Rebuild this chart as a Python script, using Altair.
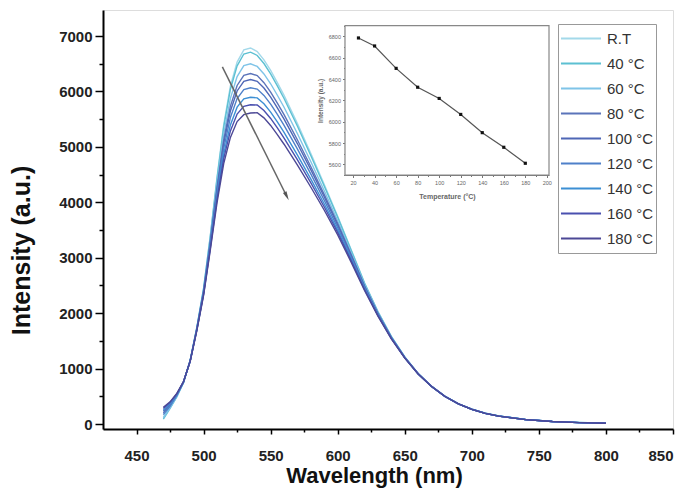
import altair as alt
import pandas as pd

FONT = "Liberation Sans"

# ---------------- data ----------------
wavelength = [470, 475, 480, 485, 490, 495, 500, 505, 510, 515, 520, 525, 530, 535, 540,
              545, 550, 555, 560, 570, 580, 590, 600, 610, 620, 630, 640, 650, 660, 670,
              680, 690, 700, 710, 720, 740, 760, 780, 800]

series_labels = ["R.T", "40 °C", "60 °C", "80 °C", "100 °C", "120 °C", "140 °C", "160 °C", "180 °C"]
series_colors = ["#a3d9ea", "#5cc0d2", "#7fc4e8", "#5b74ba", "#4f67b6", "#4f80c9", "#3c8fd4", "#4a50af", "#4c4896"]

int_rt = [130, 300, 500, 750, 1150, 1750, 2450, 3400, 4450, 5400, 6100, 6530, 6750, 6785, 6720,
          6570, 6380, 6160, 5930, 5420, 4880, 4320, 3750, 3150, 2550, 2030, 1580, 1210, 910, 680,
          500, 365, 268, 195, 145, 82, 46, 26, 14]
int_40 = [90, 280, 490, 745, 1149, 1746, 2442, 3383, 4421, 5355, 6041, 6462, 6676, 6710, 6650,
          6504, 6317, 6100, 5874, 5372, 4841, 4291, 3729, 3135, 2541, 2025, 1577, 1209, 910, 679,
          499, 365, 267, 195, 144, 82, 46, 26, 14]
int_60 = [110, 290, 495, 748, 1145, 1735, 2419, 3336, 4338, 5230, 5875, 6269, 6466, 6500, 6452,
          6316, 6139, 5932, 5716, 5238, 4732, 4208, 3668, 3094, 2516, 2010, 1569, 1205, 908, 679,
          499, 364, 267, 194, 144, 81, 46, 25, 14]
int_80 = [200, 340, 520, 755, 1142, 1726, 2400, 3296, 4268, 5125, 5735, 6108, 6291, 6324, 6286,
          6159, 5990, 5791, 5583, 5125, 4641, 4138, 3617, 3060, 2494, 1997, 1563, 1202, 907, 678,
          498, 364, 266, 194, 144, 81, 45, 25, 13]
int_100 = [230, 360, 530, 758, 1140, 1721, 2388, 3272, 4226, 5060, 5649, 6009, 6183, 6215, 6184,
           6062, 5898, 5705, 5502, 5056, 4585, 4095, 3586, 3039, 2482, 1989, 1559, 1200, 906, 678,
           498, 363, 266, 193, 143, 81, 45, 25, 13]
int_120 = [170, 320, 510, 752, 1138, 1713, 2372, 3238, 4167, 4971, 5531, 5872, 6035, 6066, 6043,
           5929, 5771, 5585, 5389, 4960, 4508, 4036, 3543, 3010, 2464, 1978, 1553, 1197, 905, 677,
           497, 363, 266, 193, 143, 81, 45, 25, 13]
int_140 = [250, 370, 535, 760, 1135, 1704, 2354, 3200, 4100, 4869, 5397, 5717, 5866, 5896, 5884,
           5778, 5628, 5450, 5262, 4852, 4420, 3969, 3495, 2977, 2443, 1966, 1547, 1194, 904, 677,
           497, 362, 265, 193, 143, 80, 45, 25, 13]
int_160 = [280, 390, 545, 762, 1133, 1697, 2339, 3169, 4047, 4788, 5289, 5593, 5731, 5760, 5756,
           5657, 5513, 5342, 5160, 4765, 4349, 3916, 3456, 2950, 2427, 1956, 1542, 1192, 903, 676,
           496, 362, 265, 192, 142, 80, 45, 25, 13]
int_180 = [300, 400, 550, 765, 1130, 1689, 2323, 3135, 3988, 4699, 5171, 5457, 5582, 5611, 5616,
           5524, 5387, 5222, 5048, 4670, 4272, 3857, 3413, 2921, 2409, 1946, 1536, 1189, 902, 676,
           496, 362, 265, 192, 142, 80, 45, 25, 13]
series_values = [int_rt, int_40, int_60, int_80, int_100, int_120, int_140, int_160, int_180]

# inset: peak intensity vs temperature
temperature = [25, 40, 60, 80, 100, 120, 140, 160, 180]
peak_intensity = [6785, 6710, 6500, 6323, 6218, 6068, 5897, 5760, 5610]

# tick values
x_major = [450, 500, 550, 600, 650, 700, 750, 800, 850]
x_minor = [475, 525, 575, 625, 675, 725, 775, 825]
y_major = [0, 1000, 2000, 3000, 4000, 5000, 6000, 7000]
y_minor = [500, 1500, 2500, 3500, 4500, 5500, 6500]
ix_major = [20, 40, 60, 80, 100, 120, 140, 160, 180, 200]
ix_minor = [30, 50, 70, 90, 110, 130, 150, 170, 190]
iy_major = [5600, 5800, 6000, 6200, 6400, 6600, 6800]
iy_minor = [5500, 5700, 5900, 6100, 6300, 6500, 6700, 6900]

# arrow annotation (data coordinates: start -> end)
arrow_start = (514, 6444)
arrow_end = (562, 4110)

rows = []
for lab, vals in zip(series_labels, series_values):
    for w, v in zip(wavelength, vals):
        rows.append({"wl": w, "I": v, "series": lab})
df = pd.DataFrame(rows)
inset_df = pd.DataFrame({"T": temperature, "I": peak_intensity})

# ---------------- scales ----------------
W, H = 570, 419
main_x = alt.Scale(domain=[425, 850], nice=False, zero=False)
main_y = alt.Scale(domain=[-90, 7470], nice=False, zero=False)
inset_x = alt.Scale(domain=[12.5, 202], range=[242, 446], nice=False, zero=False)
inset_y = alt.Scale(domain=[5500, 6900], range=[165, 15.7], nice=False, zero=False)

# ---------------- main spectra ----------------
lines = alt.Chart(df).mark_line(strokeWidth=1.4).encode(
    x=alt.X("wl:Q", scale=main_x, axis=alt.Axis(
        values=x_major, format="d", orient="bottom", title="Wavelength (nm)", grid=False,
        tickSize=5, tickWidth=1.5, tickColor="black", domainColor="black", domainWidth=2,
        labelFont=FONT, labelFontSize=15, labelFontWeight="bold", labelColor="#222",
        labelPadding=14, titleFont=FONT, titleFontSize=22, titleFontWeight="bold",
        titleColor="#111", titleX=271, titleY=46, titleBaseline="middle", titleAnchor="start", titleAlign="center")),
    y=alt.Y("I:Q", scale=main_y, axis=alt.Axis(
        values=y_major, format="d", orient="left", title="Intensity (a.u.)", grid=False,
        tickSize=8, tickWidth=1.5, tickColor="black", domainColor="black", domainWidth=2,
        labelFont=FONT, labelFontSize=15, labelFontWeight="bold", labelColor="#222",
        labelPadding=3, titleFont=FONT, titleFontSize=25, titleFontWeight="bold",
        titleColor="#111", titleX=-82, titleY=240, titleBaseline="middle", titleAlign="center", titleAngle=270)),
    color=alt.Color("series:N", sort=series_labels,
                    scale=alt.Scale(domain=series_labels, range=series_colors),
                    legend=alt.Legend(title=None, orient="none", legendX=455, legendY=14,
                                      symbolType="stroke", symbolSize=1600, symbolStrokeWidth=2,
                                      labelFont=FONT, labelFontSize=15, labelColor="#333",
                                      labelOffset=5, strokeColor="#999", fillColor="white",
                                      padding=2, rowPadding=0, clipHeight=25,
                                      direction="vertical")),
)

dummy = pd.DataFrame({"x": [425], "y": [0]})
minor_main = alt.Chart(dummy).mark_point(opacity=0).encode(
    x=alt.X("x:Q", scale=main_x, axis=alt.Axis(
        values=x_minor, orient="bottom", labels=False, domain=False, grid=False, title=None,
        tickSize=3, tickWidth=1.5, tickColor="black")),
    y=alt.Y("y:Q", scale=main_y, axis=alt.Axis(
        values=y_minor, orient="left", labels=False, domain=False, grid=False, title=None,
        tickSize=4, tickWidth=1.5, tickColor="black")),
)

arrow_df = pd.DataFrame({"x": [arrow_start[0]], "y": [arrow_start[1]],
                         "x2": [arrow_end[0]], "y2": [arrow_end[1]]})
arrow = alt.Chart(arrow_df).mark_rule(color="#666", strokeWidth=1.5).encode(
    x=alt.X("x:Q", scale=main_x, axis=None), y=alt.Y("y:Q", scale=main_y, axis=None),
    x2="x2:Q", y2="y2:Q")
head = alt.Chart(arrow_df).mark_point(
    shape="M0,-1L0.45,1L-0.45,1Z", filled=True, color="#555", opacity=1, size=80, angle=153.4
).encode(x=alt.X("x2:Q", scale=main_x, axis=None), y=alt.Y("y2:Q", scale=main_y, axis=None))

# ---------------- inset ----------------
frame_df = pd.DataFrame({"x0": [12.5], "x1": [202], "y0": [5500], "y1": [6900]})
inset_frame = alt.Chart(frame_df).mark_rect(fill="white", stroke="#888", strokeWidth=1.2).encode(
    x=alt.X("x0:Q", scale=inset_x, axis=alt.Axis(
        values=ix_major, format="d", orient="bottom", offset=-254, grid=False, title="Temperature (°C)",
        tickSize=2.5, tickColor="#777", domainColor="#777", domainWidth=1.2,
        labelFont=FONT, labelFontSize=5.5, labelColor="#666", labelPadding=3,
        titleFont=FONT, titleFontSize=7, titleFontWeight="bold", titleColor="#666", titlePadding=6)),
    x2="x1:Q",
    y=alt.Y("y0:Q", scale=inset_y, axis=alt.Axis(
        values=iy_major, format="d", orient="left", offset=-242, grid=False, title="Intensity (a.u.)",
        tickSize=2.5, tickColor="#777", domainColor="#777", domainWidth=1.2,
        labelFont=FONT, labelFontSize=5.5, labelColor="#666", labelPadding=2,
        titleFont=FONT, titleFontSize=6.5, titleFontWeight="bold", titleColor="#666", titlePadding=5)),
    y2="y1:Q",
)
inset_minor = alt.Chart(dummy).mark_point(opacity=0).encode(
    x=alt.X("x:Q", scale=inset_x, axis=alt.Axis(
        values=ix_minor, orient="bottom", offset=-254, labels=False, domain=False, grid=False,
        title=None, tickSize=1.5, tickColor="#777")),
    y=alt.Y("y:Q", scale=inset_y, axis=alt.Axis(
        values=iy_minor, orient="left", offset=-242, labels=False, domain=False, grid=False,
        title=None, tickSize=1.5, tickColor="#777")),
)
inset_line = alt.Chart(inset_df).mark_line(color="#555", strokeWidth=1.2).encode(
    x=alt.X("T:Q", scale=inset_x, axis=None), y=alt.Y("I:Q", scale=inset_y, axis=None))
inset_pts = alt.Chart(inset_df).mark_point(shape="square", filled=True, color="#111", opacity=1, size=10).encode(
    x=alt.X("T:Q", scale=inset_x, axis=None), y=alt.Y("I:Q", scale=inset_y, axis=None))

chart = alt.layer(
    lines, minor_main, arrow, head, inset_frame, inset_minor, inset_line, inset_pts
).resolve_scale(
    x="independent", y="independent"
).properties(
    width=W, height=H,
    padding={"left": 103, "top": 10, "right": 16, "bottom": 64},
    autosize=alt.AutoSizeParams(type="none"),
).configure_view(
    stroke="black", strokeWidth=1.5
).configure(background="white")

chart.save("out.html", embed_options={"renderer": "svg", "actions": False})
